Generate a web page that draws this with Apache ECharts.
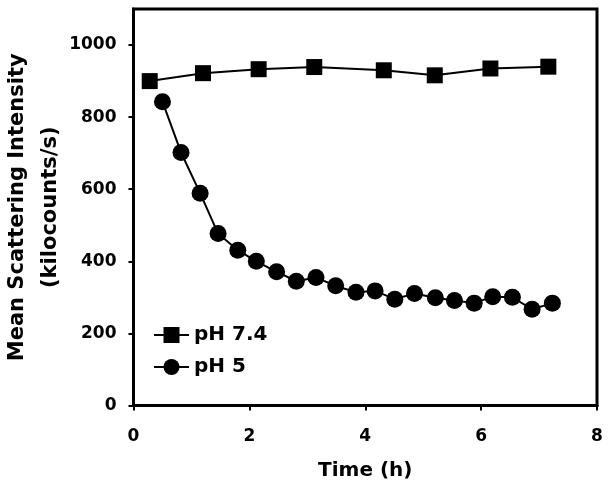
<!DOCTYPE html>
<html>
<head>
<meta charset="utf-8">
<script src="https://cdn.jsdelivr.net/npm/echarts@6/dist/echarts.min.js"></script>
<style>html,body{margin:0;padding:0;background:#fff}#c{width:610px;height:495px}</style>
</head>
<body>
<div id="c"></div>
<script>
// Data
const ph74Time = [0.28, 1.20, 2.16, 3.12, 4.32, 5.20, 6.16, 7.16];
const ph74Values = [900, 922, 933, 939, 930, 916, 935, 940];
const ph5Time = [0.50, 0.82, 1.15, 1.46, 1.80, 2.12, 2.47, 2.81, 3.15, 3.49, 3.84, 4.17, 4.51, 4.85, 5.21, 5.54, 5.88, 6.20, 6.54, 6.88, 7.23];
const ph5Values = [843, 702, 589, 477, 431, 400, 371, 345, 355, 332, 314, 318, 295, 311, 299, 291, 284, 302, 300, 267, 284];
const yTicks = [0, 200, 400, 600, 800, 1000];
const seriesNames = ['pH 7.4', 'pH 5'];
const xTitle = 'Time (h)';
const yTitle = 'Mean Scattering Intensity\n(kilocounts/s)';

const FONT = 'DejaVu Sans';
const zip = (a, b) => a.map((v, i) => [v, b[i]]);

const chart = echarts.init(document.getElementById('c'), null, {renderer: 'canvas'});
chart.setOption({
  animation: false,
  backgroundColor: '#fff',
  grid: {left: 133.5, right: 13, top: 9, bottom: 89.5, containLabel: false, outerBoundsMode: 'none',
         show: true, borderColor: '#000', borderWidth: 3, backgroundColor: 'transparent'},
  xAxis: {
    type: 'value', min: 0, max: 8, interval: 2,
    name: xTitle, nameLocation: 'middle', nameGap: 55, nameMoveOverlap: false,
    nameTextStyle: {fontFamily: FONT, fontWeight: 'bold', fontSize: 20, color: '#000'},
    axisLine: {show: true, lineStyle: {color: '#000', width: 3}},
    axisTick: {show: true, inside: false, length: 5, lineStyle: {color: '#000', width: 2}},
    axisLabel: {fontFamily: FONT, fontWeight: 'bold', fontSize: 17, color: '#000', margin: 23},
    splitLine: {show: false}
  },
  yAxis: {
    type: 'value', min: 0, max: 1100,
    name: yTitle, nameLocation: 'middle', nameGap: 66, nameRotate: 90, nameMoveOverlap: false,
    nameTextStyle: {fontFamily: FONT, fontWeight: 'bold', fontSize: 21, color: '#000', lineHeight: 33},
    axisLine: {show: true, lineStyle: {color: '#000', width: 3}},
    axisTick: {show: true, inside: false, length: 5, lineStyle: {color: '#000', width: 2}, customValues: yTicks},
    axisLabel: {fontFamily: FONT, fontWeight: 'bold', fontSize: 17, color: '#000', margin: 17, customValues: yTicks,
                formatter: v => String(v)},
    splitLine: {show: false}
  },
  legend: {
    orient: 'vertical', left: 153, top: 325, padding: 0,
    itemWidth: 35, itemHeight: 20, itemGap: 12,
    data: seriesNames,
    textStyle: {fontFamily: FONT, fontWeight: 'bold', fontSize: 20, color: '#000'}
  },
  series: [
    {
      name: seriesNames[0], type: 'line', data: zip(ph74Time, ph74Values),
      symbol: 'rect', symbolSize: 16,
      lineStyle: {color: '#000', width: 2}, itemStyle: {color: '#000', borderWidth: 0}
    },
    {
      name: seriesNames[1], type: 'line', data: zip(ph5Time, ph5Values),
      symbol: 'circle', symbolSize: 17,
      lineStyle: {color: '#000', width: 2}, itemStyle: {color: '#000', borderWidth: 0}
    }
  ]
});
</script>
</body>
</html>
